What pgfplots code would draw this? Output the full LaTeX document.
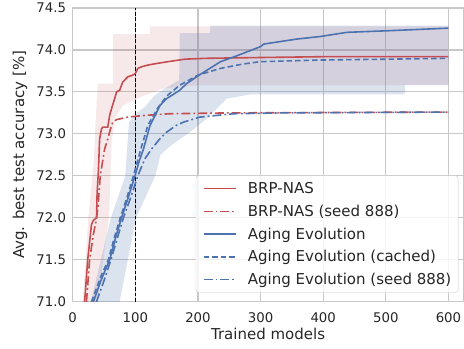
\documentclass[border=0pt]{standalone}
\usepackage{pgfplots}
\pgfplotsset{compat=1.18}
\usepackage{fontspec}
\setmainfont{DejaVu Sans}
\definecolor{sred}{HTML}{C44E52}
\definecolor{sblue}{HTML}{4C72B0}
\definecolor{gridc}{HTML}{C8C8C8}
\definecolor{txt}{HTML}{262626}
\begin{document}
\begin{tikzpicture}
\path[use as bounding box] (-72.7pt,-47pt) rectangle (391.3pt,301.7pt);
\begin{axis}[
  scale only axis, width=390.8pt, height=293.7pt,
  xmin=0, xmax=624, ymin=71, ymax=74.5,
  xtick={0,100,200,300,400,500,600},
  ytick={71,71.5,72,72.5,73,73.5,74,74.5},
  /pgf/number format/assume math mode=true,
  yticklabel style={/pgf/number format/fixed, /pgf/number format/fixed zerofill, /pgf/number format/precision=1, inner sep=0pt, xshift=-6.5pt},
  xticklabel style={inner sep=0pt, yshift=-10.5pt},
  ticklabel style={font=\fontsize{13.3}{16}\selectfont, text=txt},
  major tick length=0pt,
  grid=major,
  grid style={gridc, line width=1.1pt},
  axis line style={gridc, line width=1.1pt},
  xlabel={Trained models},
  ylabel={Avg. best test accuracy [\%]},
  label style={font=\fontsize{15}{18}\selectfont, text=txt},
  xlabel style={at={(axis description cs:0.5,-0.11)}, anchor=center},
  ylabel style={at={(axis description cs:-0.135,0.5)}, anchor=center},
  legend cell align=left,
  legend image code/.code={\draw[#1, line width=1.6pt] (0pt,0pt) -- (32pt,0pt);},
  legend style={at={(rel axis cs:0.9867,0.0306)}, anchor=south east,
    font=\fontsize{15}{18}\selectfont, text=txt,
    draw=gridc, rounded corners=3pt,
    fill=white, fill opacity=0.8, draw opacity=1, text opacity=1,
    inner xsep=6.8pt, inner ysep=5.6pt,
    row sep=7.7pt, column sep=11.6pt,
    nodes={inner sep=0pt, text height=12.5pt, text depth=2.5pt}},
]
% bands
\addplot[fill=sred, fill opacity=0.13, draw=none, forget plot] coordinates {
(14,70.8) (16,71.0) (25,72.0) (33,72.6) (37,73.2) (40,73.6) (64,73.6) (64.5,74.19) (123,74.19) (123.5,74.28) (600,74.28)
(600,73.58) (200,73.58) (144,73.54) (102,73.42) (81,73.34) (68,73.2) (62,72.9) (58,72.0) (40,71.0) (38,70.8)} -- cycle;
\addplot[fill=sblue, fill opacity=0.2, draw=none, forget plot] coordinates {
(22,70.8) (29,71.0) (61,72.0) (84,72.5) (88,72.94) (90,73.14) (104,73.26) (115,73.32) (131,73.46) (147,73.54) (170,73.64) (171,74.2) (219,74.2) (220,74.29) (600,74.29)
(600,73.58) (531,73.58) (530,73.47) (283,73.47) (246,73.42) (214,73.18) (187,73.02) (155,72.85) (140,72.75) (132,72.5) (101,72.0) (75,71.0) (72,70.8)} -- cycle;
% vertical marker
\addplot[black, line width=1pt, dash pattern=on 3.7pt off 1.8pt, forget plot] coordinates {(100,71) (100,74.5)};
% BRP-NAS
\addplot[sred, line width=1.6pt] coordinates {
(15,70.75) (19,71.0) (24,71.5) (30,71.92) (33,71.97) (38,72.0) (39,72.3) (41,72.55) (43,72.94) (46,73.06) (48,73.08) (56,73.08) (59,73.22) (62,73.30) (67,73.42) (70,73.50) (75,73.52) (80,73.62) (88,73.68) (96,73.70) (100,73.72) (104,73.78) (110,73.80) (120,73.82) (135,73.84) (152,73.86) (179,73.89) (210,73.90) (300,73.91) (400,73.92) (600,73.92)};
\addlegendentry{BRP-NAS}
\addplot[sred, line width=1.6pt, dash pattern=on 9pt off 3pt on 1.8pt off 3pt] coordinates {
(17,70.8) (22,71.0) (27,71.5) (33,71.8) (37,71.95) (40,72.1) (44,72.5) (51,72.82) (56,72.94) (60,73.05) (64,73.14) (70,73.17) (88,73.20) (115,73.22) (155,73.24) (250,73.25) (600,73.26)};
\addlegendentry{BRP-NAS (seed 888)}
% Aging Evolution
\addplot[sblue, line width=1.6pt] coordinates {
(28,70.8) (33,71.0) (45,71.25) (59,71.5) (68,71.75) (78,72.0) (89,72.25) (99.5,72.5) (106,72.67) (113,72.82) (123.5,73.1) (139.5,73.34) (150,73.42) (171,73.52) (182,73.6) (204,73.71) (236,73.86) (262,73.93) (300,74.04) (305,74.07) (358,74.13) (395,74.16) (438,74.21) (507,74.23) (600,74.26)};
\addlegendentry{Aging Evolution}
\addplot[sblue, line width=1.6pt, dash pattern=on 5.5pt off 3pt] coordinates {
(24,70.8) (30,71.0) (45,71.3) (57,71.5) (66,71.75) (76,72.0) (87,72.25) (97,72.5) (110,72.85) (120,73.1) (135,73.3) (150,73.45) (171,73.58) (200,73.70) (236,73.78) (270,73.83) (299,73.86) (395,73.88) (500,73.89) (600,73.90)};
\addlegendentry{Aging Evolution (cached)}
\addplot[sblue, line width=1.6pt, dash pattern=on 9pt off 3pt on 1.8pt off 3pt] coordinates {
(33,70.8) (38,71.0) (50,71.25) (61,71.5) (71,71.75) (81,72.0) (93,72.25) (104,72.5) (115,72.7) (126,72.82) (139,72.94) (150,73.02) (165,73.1) (177,73.14) (203,73.2) (257,73.24) (336,73.25) (600,73.26)};
\addlegendentry{Aging Evolution (seed 888)}
\end{axis}
\end{tikzpicture}
\end{document}
